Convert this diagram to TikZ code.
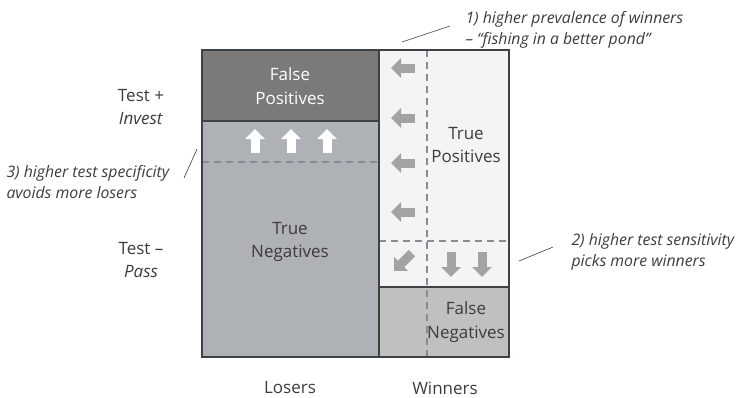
\documentclass[tikz,border=0pt]{standalone}
\usepackage{fontspec}
\setmainfont{Open Sans}
\usetikzlibrary{arrows.meta}

\definecolor{fpgray}{HTML}{7B7A79}
\definecolor{tngray}{HTML}{AEB1B6}
\definecolor{tpgray}{HTML}{F4F4F4}
\definecolor{fngray}{HTML}{C2BFBF}
\definecolor{rim}{HTML}{3D4247}
\definecolor{cutgray}{HTML}{868C94}
\definecolor{arr}{HTML}{A3A3A3}
\definecolor{ink}{HTML}{3C3C3C}

\begin{document}
\begin{tikzpicture}[x=1pt,y=-1pt]
    \tikzstyle{lbl}=[align=center,font=\fontsize{17}{23.5}\selectfont,text=ink]
    \tikzstyle{note}=[align=left,anchor=west,font=\fontsize{15.8}{21}\selectfont\itshape,text=ink]
    \tikzstyle{cut}=[cutgray,line width=1.5,dash pattern=on 7pt off 5pt]
    \tikzstyle{blk}=[line width=9,-{Triangle[width=19pt,length=10pt]}]
    \tikzstyle{lead}=[ink,line width=0.6]

    \def\xl{202}
    \def\xm{379}
    \def\xr{509}
    \def\yt{50}
    \def\yb{357}

    \useasboundingbox (0,0) rectangle (740,397);

    % cells
    \fill[fpgray] (\xl,\yt) rectangle (\xm,121);
    \fill[tngray] (\xl,121) rectangle (\xm,\yb);
    \fill[tpgray] (\xm,\yt) rectangle (\xr,287);
    \fill[fngray] (\xm,287) rectangle (\xr,\yb);

    % dashed cuts
    \draw[cut] (\xl,162) -- (\xm,162);
    \draw[cut] (\xm,241) -- (\xr,241);
    \draw[cut] (427,\yt) -- (427,\yb);

    % borders
    \draw[rim,line width=2.5] (\xl,\yt) rectangle (\xr,\yb);
    \draw[rim,line width=2] (\xm,\yt) -- (\xm,\yb);
    \draw[rim,line width=2] (\xl,121) -- (\xm,121);
    \draw[rim,line width=2] (\xm,287) -- (\xr,287);

    % shift arrows
    \draw[blk,white] (255,153) -- (255,129);
    \draw[blk,white] (291,153) -- (291,129);
    \draw[blk,white] (327,153) -- (327,129);
    \draw[blk,arr] (415,68) -- (391,68);
    \draw[blk,arr] (415,118) -- (391,118);
    \draw[blk,arr] (415,163) -- (391,163);
    \draw[blk,arr] (415,212) -- (391,212);
    \draw[blk,arr] (412,253) -- (394,271);
    \draw[blk,arr] (451,252) -- (451,277);
    \draw[blk,arr] (482,252) -- (482,277);

    % cell labels
    \node[lbl,text=white] (fp) at (290,86) {False\\Positives};
    \node[lbl] (tp) at (466,145) {True\\Positives};
    \node[lbl] (tn) at (290,242) {True\\Negatives};
    \node[lbl] (fn) at (466,322) {False\\Negatives};

    % axis labels
    \node[lbl] (pos) at (141,107) {Test +\\\textit{Invest}};
    \node[lbl] (neg) at (141,260) {Test –\\\textit{Pass}};
    \node[lbl] (los) at (290,388) {Losers};
    \node[lbl] (win) at (445,388) {Winners};

    % notes
    \node[note] (n1) at (462,30) {1) higher prevalence of winners\\– “fishing in a better pond”};
    \node[note] (n2) at (568,252) {2) higher test sensitivity\\picks more winners};
    \node[note] (n3) at (3,182) {3) higher test specificity\\avoids more losers};

    \coordinate (l1a) at (402,42);
    \coordinate (l1b) at (450,26);
    \coordinate (l2a) at (519,261);
    \coordinate (l2b) at (553,247);
    \coordinate (l3a) at (184,178);
    \coordinate (l3b) at (197,149);
    \draw[lead] (l1a) -- (l1b);
    \draw[lead] (l2a) -- (l2b);
    \draw[lead] (l3a) -- (l3b);

\end{tikzpicture}
\end{document}
